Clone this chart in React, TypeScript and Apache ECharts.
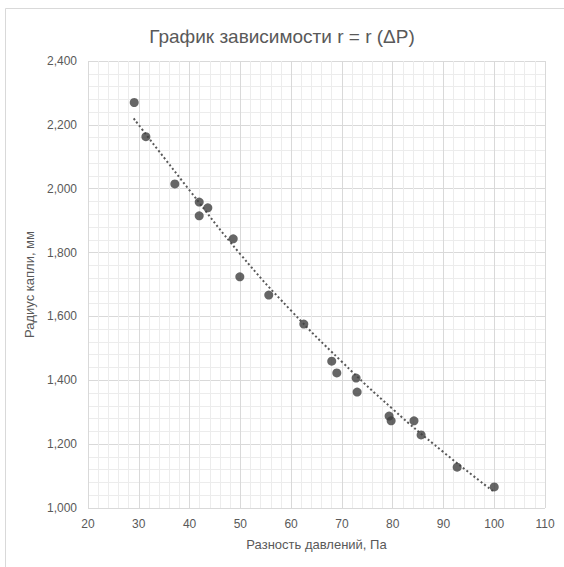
import React, { useEffect, useRef } from "react";
import * as echarts from "echarts";

const pressureDiff = [29.1, 31.4, 37.1, 41.9, 41.9, 43.6, 48.6, 49.9, 55.6, 62.5, 68.0, 69.0, 72.8, 73.0, 79.3, 79.7, 84.2, 85.6, 92.7, 100.0];
const dropRadius = [2270, 2163, 2015, 1958, 1915, 1940, 1843, 1724, 1667, 1576, 1460, 1423, 1407, 1363, 1288, 1273, 1273, 1229, 1128, 1066];

const trendX = [29, 40, 50, 60, 70, 80, 90, 100];
const trendY = [2220, 1995, 1795, 1618, 1458, 1310, 1175, 1050];

const titleText = "График зависимости r = r (ΔP)";
const xName = "Разность давлений, Па";
const yName = "Радиус капли, мм";

const FONT = "'Liberation Sans', Arial, sans-serif";

export default function App() {
  const ref = useRef<HTMLDivElement>(null);
  useEffect(() => {
    if (!ref.current) return;
    const chart = echarts.init(ref.current, null, { renderer: "svg" });
    chart.setOption({
      animation: false,
      backgroundColor: "#ffffff",
      textStyle: { fontFamily: FONT },
      title: {
        text: titleText,
        left: "center",
        top: 22,
        textStyle: { fontSize: 19, fontWeight: "normal", color: "#595959", fontFamily: FONT },
      },
      graphic: [
        {
          type: "rect",
          shape: { x: 5.5, y: 8.5, width: 700, height: 700 },
          style: { fill: "none", stroke: "#d9d9d9", lineWidth: 1 },
          silent: true,
        },
      ],
      grid: { left: 88, right: 19, top: 61, bottom: 59 },
      xAxis: {
        type: "value",
        min: 20,
        max: 110,
        interval: 10,
        name: xName,
        nameLocation: "middle",
        nameGap: 30,
        nameTextStyle: { fontSize: 13, color: "#595959", fontFamily: FONT },
        axisLine: { show: false },
        axisTick: { show: false },
        axisLabel: { fontSize: 12, color: "#595959", margin: 10, fontFamily: FONT },
        splitLine: { show: true, lineStyle: { color: "#d9d9d9", width: 1 } },
        minorTick: { show: false, splitNumber: 5 },
        minorSplitLine: { show: true, lineStyle: { color: "#ececec", width: 1 } },
      },
      yAxis: {
        type: "value",
        min: 1000,
        max: 2400,
        interval: 200,
        name: yName,
        nameLocation: "middle",
        nameGap: 52,
        nameTextStyle: { fontSize: 13, color: "#595959", fontFamily: FONT },
        axisLine: { show: false },
        axisTick: { show: false },
        axisLabel: {
          fontSize: 12,
          color: "#595959",
          margin: 11,
          fontFamily: FONT,
          formatter: (v: number) => v.toLocaleString("en-US"),
        },
        splitLine: { show: true, lineStyle: { color: "#d9d9d9", width: 1 } },
        minorTick: { show: false, splitNumber: 5 },
        minorSplitLine: { show: true, lineStyle: { color: "#ececec", width: 1 } },
      },
      series: [
        {
          type: "line",
          data: trendX.map((x, i) => [x, trendY[i]]),
          smooth: true,
          showSymbol: false,
          symbol: "none",
          lineStyle: { color: "#595959", width: 2, type: [2, 2.5] },
          z: 2,
          silent: true,
        },
        {
          type: "scatter",
          data: pressureDiff.map((x, i) => [x, dropRadius[i]]),
          symbol: "circle",
          symbolSize: 9,
          itemStyle: { color: "#404040" },
          z: 3,
        },
      ],
    });
    return () => chart.dispose();
  }, []);
  return (
    <div
      ref={ref}
      style={{ position: "fixed", left: 0, top: 0, width: 564, height: 567 }}
    />
  );
}
